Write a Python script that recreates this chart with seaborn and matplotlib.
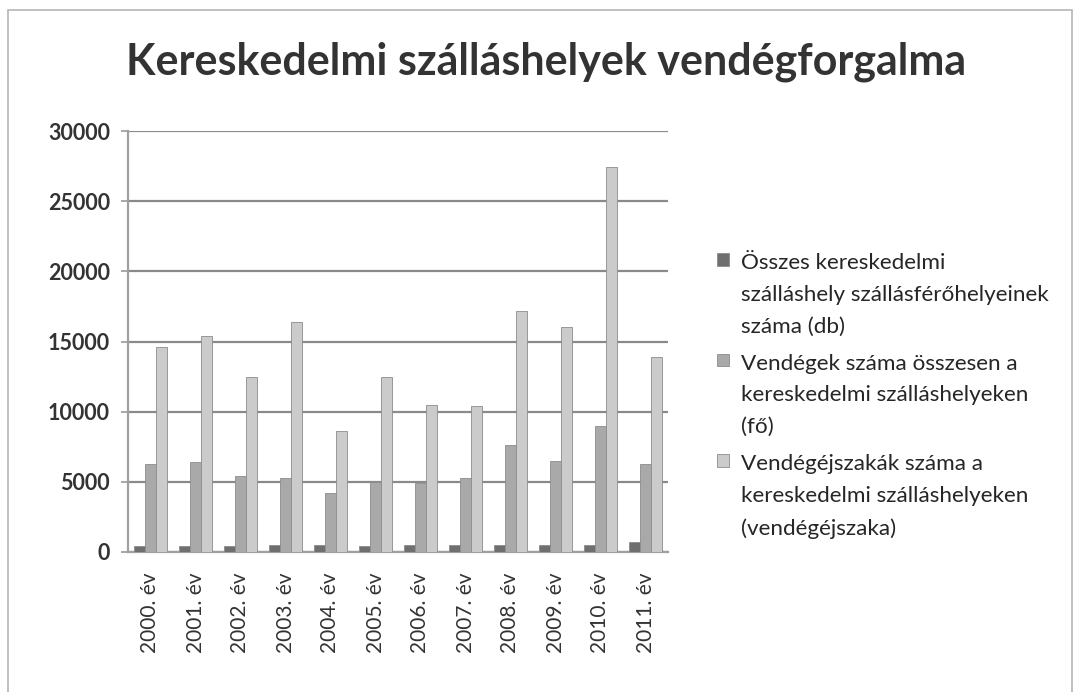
import matplotlib
matplotlib.use("Agg")
import matplotlib.pyplot as plt
import seaborn as sns
import pandas as pd
from matplotlib.patches import Rectangle

years = ["2000. év", "2001. év", "2002. év", "2003. év", "2004. év", "2005. év",
         "2006. év", "2007. év", "2008. év", "2009. év", "2010. év", "2011. év"]
series_names = [
    "Összes kereskedelmi\nszálláshely szállásférőhelyeinek\nszáma (db)",
    "Vendégek száma összesen a\nkereskedelmi szálláshelyeken\n(fő)",
    "Vendégéjszakák száma a\nkereskedelmi szálláshelyeken\n(vendégéjszaka)",
]
ferohely = [400, 400, 400, 500, 500, 400, 500, 500, 500, 500, 500, 700]
vendegek = [6300, 6400, 5400, 5300, 4200, 5000, 4900, 5300, 7600, 6500, 9000, 6300]
ejszakak = [14600, 15400, 12500, 16400, 8600, 12500, 10500, 10400, 17200, 16000, 27400, 13900]
y_ticks = [0, 5000, 10000, 15000, 20000, 25000, 30000]
title = "Kereskedelmi szálláshelyek vendégforgalma"

colors = ["#6f6f6f", "#a9a9a9", "#cbcbcb"]

rows = []
for name, vals in zip(series_names, [ferohely, vendegek, ejszakak]):
    for y, v in zip(years, vals):
        rows.append({"year": y, "series": name, "value": v})
df = pd.DataFrame(rows)

sns.set_theme(style="white")
plt.rcParams['font.family'] = ['Lato', 'DejaVu Sans']

fig = plt.figure(figsize=(10.79, 6.92), dpi=100)
fig.patch.set_facecolor("#ffffff")
W, H = 1079, 692
ax = fig.add_axes([128 / W, 1 - 552 / H, (668 - 128) / W, (552 - 131) / H])
ax.set_facecolor("white")

sns.barplot(data=df, x="year", y="value", hue="series", palette=colors,
            width=0.72, gap=0.0, edgecolor="#8c8c8c", linewidth=0.6,
            ax=ax, legend=True, zorder=3)

ax.set_ylim(0, 30000)
ax.set_yticks(y_ticks)
ax.set_yticklabels([str(t) for t in y_ticks], fontsize=15.5, fontweight="bold", color="#333333")
ax.yaxis.grid(True, color="#8a8a8a", linewidth=1.6, zorder=0)
ax.set_axisbelow(True)
ax.tick_params(axis="y", length=5, width=1.2, color="#9a9a9a", pad=8, left=True)
ax.tick_params(axis="x", length=0, pad=15)
for lbl in ax.get_xticklabels():
    lbl.set_rotation(90)
    lbl.set_fontsize(15)
    lbl.set_color("#333333")
ax.set_xlabel("")
ax.set_ylabel("")
for s in ["top", "right"]:
    ax.spines[s].set_visible(False)
ax.spines["left"].set_color("#a0a0a0")
ax.spines["left"].set_linewidth(1.6)
ax.spines["bottom"].set_color("#a0a0a0")
ax.spines["bottom"].set_linewidth(1.6)

leg = ax.legend(loc="center left", bbox_to_anchor=(697 / W, 1 - 396 / H),
                bbox_transform=fig.transFigure, frameon=False, fontsize=16.2,
                handlelength=0.5, handleheight=0.5, handletextpad=0.55,
                labelspacing=0.75, title=None)
for t in leg.get_texts():
    t.set_color("#262626")
    t.set_linespacing(1.74)
# align each marker with the first line of its entry (Excel style)
for col in leg._legend_handle_box.get_children():
    for row in col.get_children():
        row.align = "top"

fig.text(0.5 * (125 + 968) / W, 1 - 62 / H, title, ha="center", va="center",
         fontsize=31, fontweight="bold", color="#333333")

fig.patches.append(Rectangle((8 / W, -0.01), (1072 - 8) / W, (1 - 10 / H) + 0.01,
                             transform=fig.transFigure, fill=False,
                             edgecolor="#b5b5b5", linewidth=1.2))

fig.savefig("out.png", dpi=100)
